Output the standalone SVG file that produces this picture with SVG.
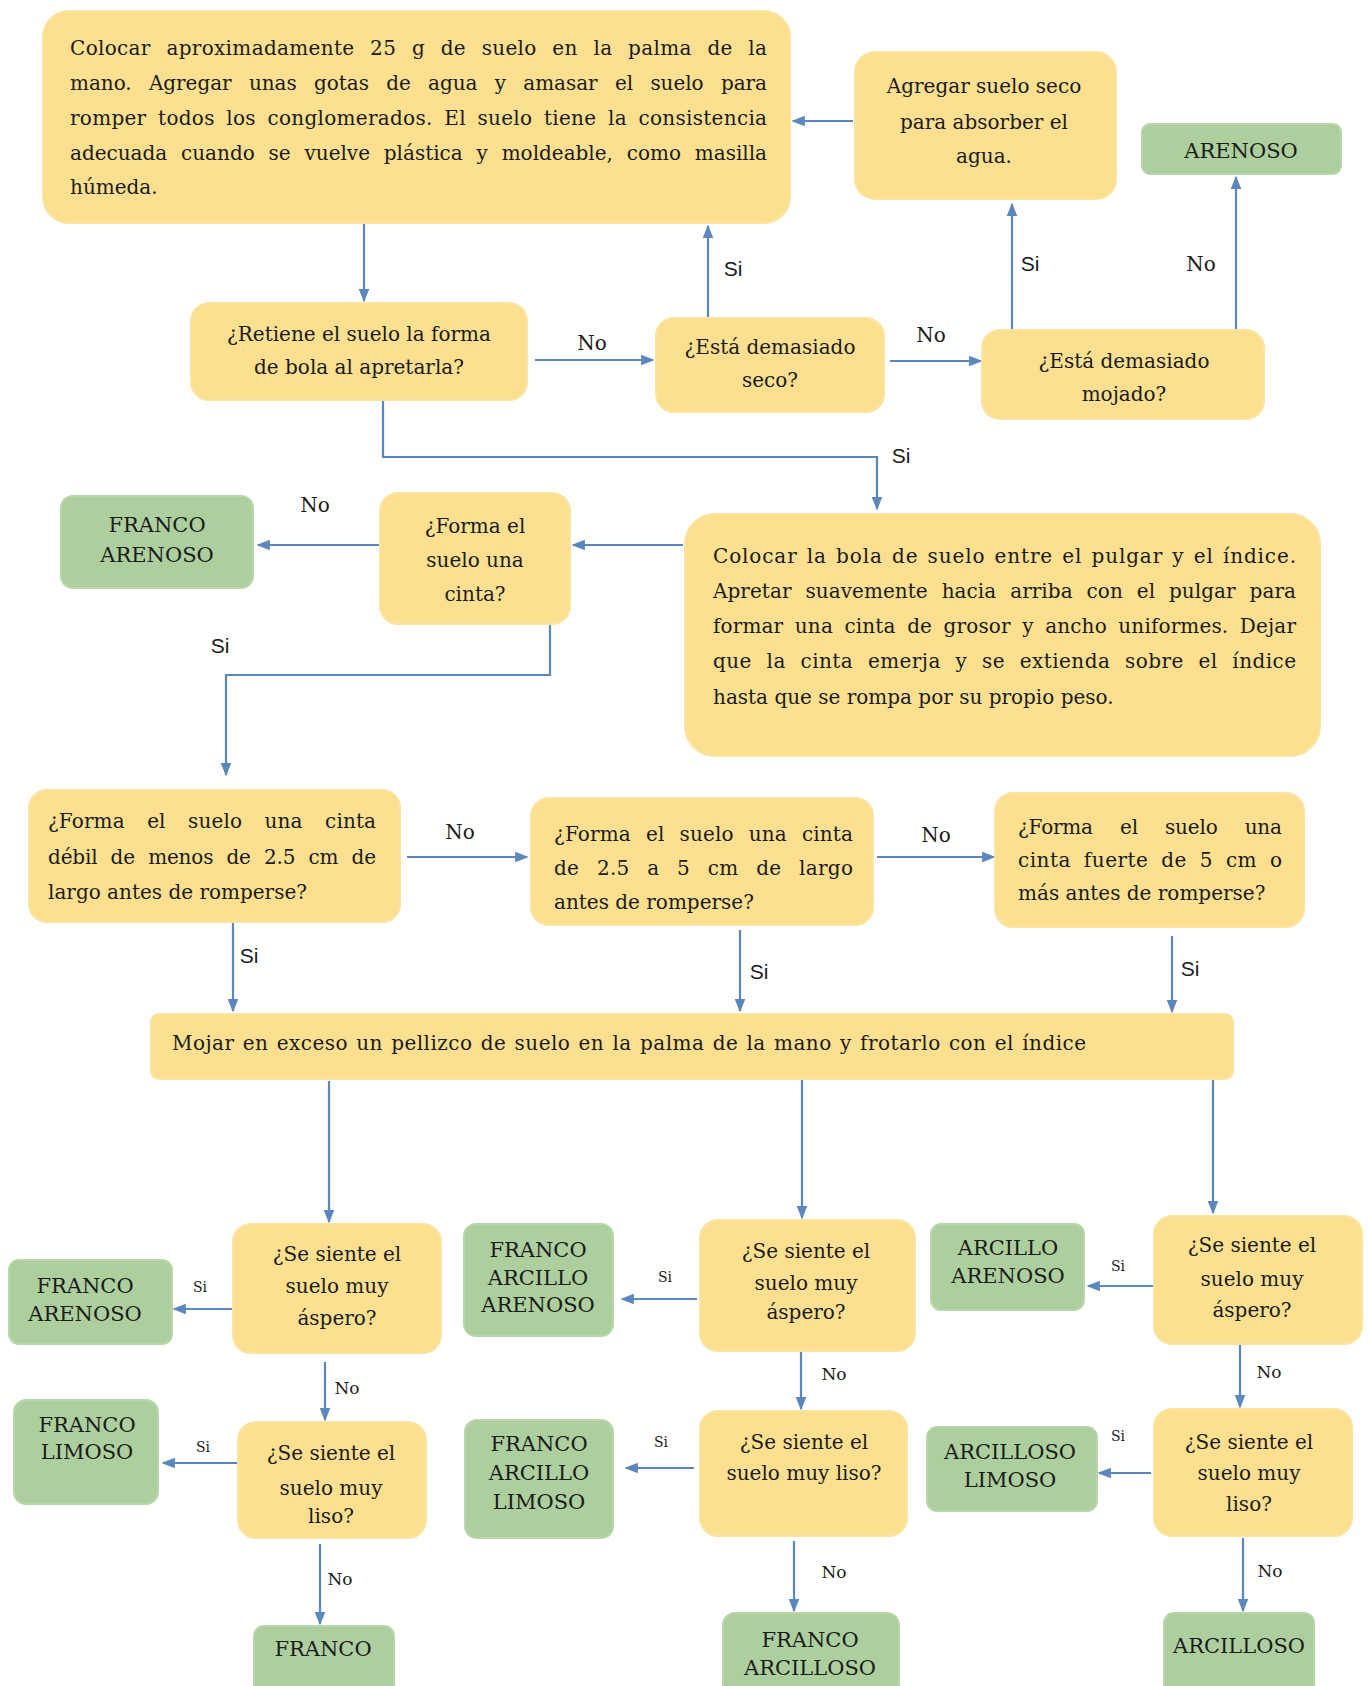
<svg xmlns="http://www.w3.org/2000/svg" width="1368" height="1686" viewBox="0 0 1368 1686">
<style>
.y{fill:#FCE08F;stroke:#FBE4A2;stroke-width:2}
.g{fill:#ADCF9E;stroke:#B8D6AA;stroke-width:2}
text{font-family:"DejaVu Serif","Liberation Serif",serif;font-size:20px;fill:#1b1b1b}
.c{text-anchor:middle}
.gl{font-size:21px}
.s{font-family:"Liberation Sans",Arial,sans-serif;font-size:21px}
.ss{font-size:14px}
.sn{font-size:17px}
.ln{fill:none;stroke:#5B87BF;stroke-width:2.2}
.ar{marker-end:url(#ah)}
</style>
<defs>
<marker id="ah" viewBox="0 0 10 10" refX="9" refY="5" markerWidth="6" markerHeight="6" orient="auto" markerUnits="strokeWidth">
<path d="M0,1 L10,5 L0,9 Z" fill="#5B87BF"/>
</marker>
</defs>
<rect width="1368" height="1686" fill="#ffffff"/>

<g id="connectors">
<path class="ln ar" d="M364,224 V301"/>
<path class="ln ar" d="M535,360 H653"/>
<path class="ln ar" d="M708,318 V226"/>
<path class="ln ar" d="M890,361 H981"/>
<path class="ln ar" d="M1012,330 V204"/>
<path class="ln ar" d="M853,121 H793"/>
<path class="ln ar" d="M1236,330 V177"/>
<path class="ln ar" d="M383,401 V457 H877 V509"/>
<path class="ln ar" d="M683,545 H573"/>
<path class="ln ar" d="M379,545 H258"/>
<path class="ln ar" d="M550,624 V675 H226 V775"/>
<path class="ln ar" d="M407,857 H527"/>
<path class="ln ar" d="M877,857 H994"/>
<path class="ln ar" d="M233,922 V1011"/>
<path class="ln ar" d="M740,930 V1011"/>
<path class="ln ar" d="M1172,936 V1012"/>
<path class="ln ar" d="M329,1081 V1222"/>
<path class="ln ar" d="M802,1079 V1218"/>
<path class="ln ar" d="M1213,1079 V1213"/>
<path class="ln ar" d="M242,1309 H174"/>
<path class="ln ar" d="M325,1362 V1420"/>
<path class="ln ar" d="M239,1463 H163"/>
<path class="ln ar" d="M320,1544 V1624"/>
<path class="ln ar" d="M697,1299 H622"/>
<path class="ln ar" d="M801,1351 V1409"/>
<path class="ln ar" d="M694,1468 H626"/>
<path class="ln ar" d="M794,1541 V1611"/>
<path class="ln ar" d="M1153,1286 H1088"/>
<path class="ln ar" d="M1240,1344 V1407"/>
<path class="ln ar" d="M1151,1473 H1099"/>
<path class="ln ar" d="M1243,1538 V1611"/>
<text x="592" y="350" class="c">No</text>
<text x="733" y="276" class="c s">Si</text>
<text x="931" y="342" class="c">No</text>
<text x="1030" y="271" class="c s">Si</text>
<text x="1201" y="271" class="c">No</text>
<text x="901" y="463" class="c s">Si</text>
<text x="315" y="512" class="c">No</text>
<text x="220" y="653" class="c s">Si</text>
<text x="460" y="839" class="c">No</text>
<text x="936" y="842" class="c">No</text>
<text x="249" y="963" class="c s">Si</text>
<text x="759" y="979" class="c s">Si</text>
<text x="1190" y="976" class="c s">Si</text>
<text x="200" y="1292" class="c ss">Si</text>
<text x="347" y="1394" class="c sn">No</text>
<text x="203" y="1452" class="c ss">Si</text>
<text x="340" y="1585" class="c sn">No</text>
<text x="665" y="1282" class="c ss">Si</text>
<text x="834" y="1380" class="c sn">No</text>
<text x="661" y="1447" class="c ss">Si</text>
<text x="834" y="1578" class="c sn">No</text>
<text x="1118" y="1271" class="c ss">Si</text>
<text x="1269" y="1378" class="c sn">No</text>
<text x="1118" y="1441" class="c ss">Si</text>
<text x="1270" y="1577" class="c sn">No</text>
</g>

<g id="n1">
<rect class="y" x="43" y="11" width="747" height="212" rx="26"/>
<text x="70" y="55" textLength="697" lengthAdjust="spacing" style="word-spacing:9px">Colocar aproximadamente 25  g de suelo en la palma de la</text>
<text x="70" y="90" textLength="697" lengthAdjust="spacing" style="word-spacing:11px">mano. Agregar unas gotas de agua y amasar el suelo para</text>
<text x="70" y="125" textLength="697" lengthAdjust="spacing" style="word-spacing:5px">romper todos los conglomerados. El suelo tiene la consistencia</text>
<text x="70" y="160" textLength="697" lengthAdjust="spacing" style="word-spacing:7.5px">adecuada cuando se vuelve plástica y moldeable, como masilla</text>
<text x="70" y="194">húmeda.</text>
</g>
<g id="n2">
<rect class="y" x="855" y="52" width="261" height="147" rx="20"/>
<text x="984" y="93" class="c">Agregar  suelo seco</text>
<text x="984" y="129" class="c">para absorber  el</text>
<text x="984" y="163" class="c">agua.</text>
</g>
<g id="n3">
<rect class="g" x="1142" y="124" width="199" height="50" rx="8"/>
<text x="1241" y="158" class="c gl">ARENOSO</text>
</g>
<g id="n4">
<rect class="y" x="191" y="303" width="336" height="97" rx="18"/>
<text x="359" y="341" class="c">¿Retiene  el suelo la forma</text>
<text x="359" y="374" class="c">de bola al apretarla?</text>
</g>
<g id="n5">
<rect class="y" x="656" y="318" width="228" height="94" rx="18"/>
<text x="770" y="354" class="c">¿Está demasiado</text>
<text x="770" y="387" class="c">seco?</text>
</g>
<g id="n6">
<rect class="y" x="982" y="330" width="282" height="89" rx="18"/>
<text x="1124" y="368" class="c">¿Está demasiado</text>
<text x="1124" y="401" class="c">mojado?</text>
</g>
<g id="n7">
<rect class="y" x="685" y="514" width="635" height="242" rx="30"/>
<text x="713" y="563" textLength="583" lengthAdjust="spacing" style="word-spacing:2px">Colocar la bola de suelo entre el pulgar y el índice.</text>
<text x="713" y="598" textLength="583" lengthAdjust="spacing" style="word-spacing:7.5px">Apretar suavemente hacia arriba con el pulgar para</text>
<text x="713" y="633" textLength="583" lengthAdjust="spacing" style="word-spacing:5px">formar una cinta de grosor y ancho uniformes. Dejar</text>
<text x="713" y="668" textLength="583" lengthAdjust="spacing" style="word-spacing:8px">que la cinta emerja y se extienda sobre el índice</text>
<text x="713" y="704">hasta que se rompa por su propio peso.</text>
</g>
<g id="n8">
<rect class="y" x="380" y="493" width="190" height="131" rx="18"/>
<text x="475" y="533" class="c">¿Forma el</text>
<text x="475" y="567" class="c">suelo una</text>
<text x="475" y="601" class="c">cinta?</text>
</g>
<g id="n9">
<rect class="g" x="61" y="496" width="192" height="92" rx="12"/>
<text x="157" y="532" class="c gl">FRANCO</text>
<text x="157" y="562" class="c gl">ARENOSO</text>
</g>
<g id="n10">
<rect class="y" x="29" y="790" width="371" height="132" rx="18"/>
<text x="48" y="828" textLength="328" lengthAdjust="spacing" style="word-spacing:16px">¿Forma el suelo una cinta</text>
<text x="48" y="864" textLength="328" lengthAdjust="spacing" style="word-spacing:7px">débil de menos de 2.5 cm de</text>
<text x="48" y="899">largo antes de romperse?</text>
</g>
<g id="n11">
<rect class="y" x="531" y="798" width="342" height="127" rx="18"/>
<text x="554" y="841" textLength="299" lengthAdjust="spacing" style="word-spacing:8.5px">¿Forma el suelo una cinta</text>
<text x="554" y="875" textLength="299" lengthAdjust="spacing" style="word-spacing:11px">de 2.5 a 5 cm de largo</text>
<text x="554" y="909">antes de romperse?</text>
</g>
<g id="n12">
<rect class="y" x="995" y="793" width="309" height="134" rx="18"/>
<text x="1018" y="834" textLength="264" lengthAdjust="spacing" style="word-spacing:21px">¿Forma el suelo una</text>
<text x="1018" y="867" textLength="264" lengthAdjust="spacing" style="word-spacing:6px">cinta fuerte de 5 cm o</text>
<text x="1018" y="900">más antes de romperse?</text>
</g>
<g id="n13">
<rect class="y" x="151" y="1014" width="1082" height="65" rx="8"/>
<text x="172" y="1050" textLength="914" lengthAdjust="spacing" style="word-spacing:1.5px">Mojar en exceso  un pellizco de suelo en la palma de la mano y frotarlo con el índice</text>
</g>
<g id="n14">
<rect class="y" x="233" y="1224" width="208" height="129" rx="18"/>
<text x="337" y="1261" class="c">¿Se siente el</text>
<text x="337" y="1293" class="c">suelo muy</text>
<text x="337" y="1325" class="c">áspero?</text>
</g>
<g id="n15">
<rect class="g" x="9" y="1260" width="163" height="84" rx="10"/>
<text x="85" y="1293" class="c gl">FRANCO</text>
<text x="85" y="1321" class="c gl">ARENOSO</text>
</g>
<g id="n16">
<rect class="y" x="238" y="1422" width="188" height="116" rx="18"/>
<text x="331" y="1460" class="c">¿Se siente el</text>
<text x="331" y="1495" class="c">suelo muy</text>
<text x="331" y="1523" class="c">liso?</text>
</g>
<g id="n17">
<rect class="g" x="14" y="1400" width="144" height="104" rx="12"/>
<text x="87" y="1432" class="c gl">FRANCO</text>
<text x="87" y="1459" class="c gl">LIMOSO</text>
</g>
<g id="n18">
<rect class="g" x="254" y="1626" width="140" height="70" rx="10"/>
<text x="323" y="1656" class="c gl">FRANCO</text>
</g>
<g id="n19">
<rect class="y" x="700" y="1220" width="215" height="131" rx="18"/>
<text x="806" y="1258" class="c">¿Se siente el</text>
<text x="806" y="1290" class="c">suelo muy</text>
<text x="806" y="1319" class="c">áspero?</text>
</g>
<g id="n20">
<rect class="g" x="464" y="1224" width="149" height="112" rx="12"/>
<text x="538" y="1257" class="c gl">FRANCO</text>
<text x="538" y="1285" class="c gl">ARCILLO</text>
<text x="538" y="1312" class="c gl">ARENOSO</text>
</g>
<g id="n21">
<rect class="y" x="700" y="1411" width="207" height="125" rx="18"/>
<text x="804" y="1449" class="c">¿Se siente el</text>
<text x="804" y="1480" class="c">suelo muy liso?</text>
</g>
<g id="n22">
<rect class="g" x="465" y="1420" width="148" height="118" rx="12"/>
<text x="539" y="1451" class="c gl">FRANCO</text>
<text x="539" y="1480" class="c gl">ARCILLO</text>
<text x="539" y="1509" class="c gl">LIMOSO</text>
</g>
<g id="n23">
<rect class="g" x="723" y="1613" width="176" height="83" rx="12"/>
<text x="810" y="1647" class="c gl">FRANCO</text>
<text x="810" y="1675" class="c gl">ARCILLOSO</text>
</g>
<g id="n24">
<rect class="y" x="1154" y="1216" width="208" height="128" rx="18"/>
<text x="1252" y="1252" class="c">¿Se siente el</text>
<text x="1252" y="1286" class="c">suelo muy</text>
<text x="1252" y="1317" class="c">áspero?</text>
</g>
<g id="n25">
<rect class="g" x="931" y="1224" width="153" height="86" rx="10"/>
<text x="1008" y="1255" class="c gl">ARCILLO</text>
<text x="1008" y="1283" class="c gl">ARENOSO</text>
</g>
<g id="n26">
<rect class="y" x="1154" y="1409" width="198" height="127" rx="18"/>
<text x="1249" y="1449" class="c">¿Se siente el</text>
<text x="1249" y="1480" class="c">suelo muy</text>
<text x="1249" y="1511" class="c">liso?</text>
</g>
<g id="n27">
<rect class="g" x="927" y="1427" width="170" height="84" rx="10"/>
<text x="1010" y="1459" class="c gl">ARCILLOSO</text>
<text x="1010" y="1487" class="c gl">LIMOSO</text>
</g>
<g id="n28">
<rect class="g" x="1164" y="1613" width="150" height="83" rx="10"/>
<text x="1239" y="1653" class="c gl">ARCILLOSO</text>
</g>
</svg>
